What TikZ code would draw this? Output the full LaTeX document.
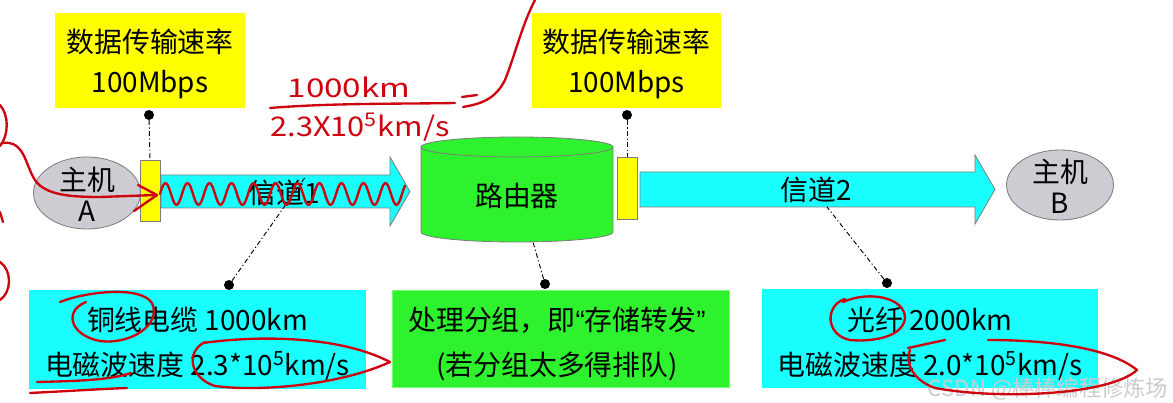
\documentclass[tikz,border=0pt]{standalone}
\usepackage{fontspec}
\setmainfont{Noto Sans CJK SC}
\newfontfamily\qfont{Liberation Sans}
\usetikzlibrary{shapes.geometric}
\definecolor{ycol}{RGB}{255,255,0}
\definecolor{ccol}{RGB}{25,255,255}
\definecolor{gcol}{RGB}{45,242,45}
\definecolor{hcol}{RGB}{206,204,210}
\definecolor{edge}{RGB}{125,125,125}
\definecolor{ink}{RGB}{205,5,15}
\tikzset{
  bigfont/.style={font=\fontsize{23.8pt}{33pt}\selectfont},
  ybox/.style={fill=ycol, draw=none, minimum width=5.67cm, minimum height=2.85cm, inner sep=0pt},
  ytext/.style={align=center, inner sep=0pt, font=\fontsize{23.8pt}{33.5pt}\selectfont},
  infobox/.style={minimum width=10.1cm, minimum height=2.95cm, inner sep=0pt},
  infotext/.style={align=center, inner sep=0pt, font=\fontsize{23.8pt}{38.3pt}\selectfont},
  portbox/.style={fill=ycol, draw=edge, line width=0.6pt, minimum width=0.6cm, minimum height=1.85cm, inner sep=0pt},
  hostshape/.style={ellipse, fill=hcol, draw=edge, line width=0.7pt, minimum width=3.21cm, minimum height=2.16cm, inner sep=0pt},
  chan/.style={fill=ccol, draw=edge, line width=0.7pt},
  lbl/.style={inner sep=0pt, bigfont},
  blackdot/.style={circle, fill=black, minimum size=0.3cm, inner sep=0pt},
  leader/.style={line width=0.8pt, dash pattern=on 4pt off 2.2pt on 1pt off 2.2pt},
  redink/.style={draw=ink, line width=2pt, line cap=round, line join=round},
  redtext/.style={text=ink, inner sep=0pt, font=\fontsize{21pt}{24pt}\selectfont}
}
\begin{document}
\begin{tikzpicture}[x=0.03cm, y=-0.03cm]
\useasboundingbox (0,0) rectangle (1173,403);
\fill[white] (0,0) rectangle (1173,403);

% top rate boxes
\node[ybox] (yL) at (150,60.5) {};
\node[ytext] (yLt) at (150,64) {数据传输速率\\100Mbps};
\node[ybox] (yR) at (626.5,60.5) {};
\node[ytext] (yRt) at (626.5,64) {数据传输速率\\100Mbps};

% channels
\draw[chan] (161,175) -- (390,175) -- (390,157) -- (410,191.5) -- (390,226) -- (390,208) -- (161,208) -- cycle;
\draw[chan] (640,172) -- (975,172) -- (975,155) -- (995,189.5) -- (975,224) -- (975,207) -- (640,207) -- cycle;
\coordinate (c1top) at (306,176);
\coordinate (c2bot) at (827,207);
\node[lbl] (ch1) at (284,193) {信道1};
\node[lbl] (ch2) at (816,190) {信道2};

% ports
\node[portbox] (pL) at (150,191) {};
\node[portbox] (pR) at (627,188.5) {};

% hosts
\node[hostshape] (hA) at (87,193) {};
\node[lbl] (hAt1) at (87,180) {主机};
\node[lbl] (hAt2) at (87,211) {A};
\node[hostshape, minimum height=2.1cm] (hB) at (1060,185) {};
\node[lbl] (hBt1) at (1060,172) {主机};
\node[lbl] (hBt2) at (1060,203) {B};

% router cylinder
\path[fill=gcol, draw=edge, line width=0.7pt] (421,147) -- (421,232)
  arc[start angle=180, end angle=360, x radius=2.88cm, y radius=0.3cm]
  -- (613,147)
  arc[start angle=0, end angle=180, x radius=2.88cm, y radius=0.3cm] -- cycle;
\draw[edge, line width=0.7pt] (421,147) arc[start angle=180, end angle=360, x radius=2.88cm, y radius=0.3cm];
\coordinate (rbot) at (533,242);
\node[lbl] (router) at (517,196) {路由器};

% bottom info boxes
\node[infobox, fill=ccol] (bL) at (197.5,339.5) {};
\node[infotext] (bLt) at (197.5,344) {铜线电缆 1000km\\电磁波速度 2.3*10\textsuperscript{5}km/s};
\node[infobox, fill=gcol, draw={rgb,255:red,120;green,250;blue,120}, line width=0.6pt, minimum height=2.91cm] (bM) at (561,338.5) {};
\node[infotext] (bMt) at (557,344) {处理分组，即{\qfont “}存储转发{\qfont ”}\\(若分组太多得排队)};
\node[infobox, fill=ccol] (bR) at (930,338.5) {};
\node[infotext] (bRt) at (930,344) {光纤 2000km\\电磁波速度 2.0*10\textsuperscript{5}km/s};

% dots and leaders
\node[blackdot] (dL) at (149,115) {};
\node[blackdot] (dR) at (627,115) {};
\node[blackdot] (dBL) at (229,285) {};
\node[blackdot] (dBM) at (545,284) {};
\node[blackdot] (dBR) at (887,283) {};
\draw[leader] (dL) -- (pL.north);
\draw[leader] (dR) -- (pR.north);
\draw[leader] (dBL) -- (c1top);
\draw[leader] (dBM) -- (rbot);
\draw[leader] (dBR) -- (c2bot);

% watermark
\node[inner sep=0pt, text=black!20, font=\fontsize{19pt}{22pt}\selectfont] (wm) at (1048,389) {CSDN @棒棒编程修炼场};

% red handwritten annotations
\node[redtext, xscale=1.35, yscale=1.05] (fn) at (349,87) {1000km};
\node[redtext, xscale=1.25, yscale=1.1] (fd) at (360,127) {2.3X10\textsuperscript{5}km/s};
\draw[redink] (270,108) .. controls (330,103) and (400,104) .. (455,103);
\draw[redink] (462,97) -- (477,95);
\draw[redink] (463,107) .. controls (480,104) and (495,100) .. (505,80) .. controls (515,55) and (522,25) .. (535,0);
\draw[redink] plot[domain=160:405, samples=160, smooth] (\x, {194 - 11*sin(16.3636*(\x-160))});
\draw[redink] (0,105) .. controls (9,115) and (9,135) .. (0,146);
\draw[redink] (2,143) .. controls (25,140) and (25,165) .. (35,180) .. controls (45,195) and (70,197) .. (100,197) -- (156,195);
\draw[redink] (138,185) -- (157,195) -- (134,211);
\draw[redink] (0,212) -- (3,222);
\draw[redink] (0,262) .. controls (12,270) and (12,292) .. (0,300);
\draw[redink] (60,302) .. controls (85,292) and (140,285) .. (152,303) .. controls (162,325) and (130,345) .. (100,341) .. controls (72,336) and (62,312) .. (86,302);
\draw[redink] (203,343) .. controls (260,335) and (340,336) .. (390,362) .. controls (340,385) and (260,392) .. (215,386) .. controls (190,378) and (185,352) .. (205,342);
\draw[redink] (37,382) .. controls (80,381) and (110,380) .. (131,373);
\draw[redink] (30,393) .. controls (70,391) and (100,389) .. (127,388);
\draw[redink] (843,302) .. controls (870,290) and (905,298) .. (905,318) .. controls (903,338) and (870,342) .. (850,340) .. controls (825,335) and (825,305) .. (845,299);
\draw[redink] (908,348) -- (945,340);
\draw[redink] (988,340) .. controls (1050,340) and (1110,348) .. (1137,370) .. controls (1110,395) and (1000,400) .. (935,388) .. controls (912,380) and (905,362) .. (910,350);
\end{tikzpicture}
\end{document}
